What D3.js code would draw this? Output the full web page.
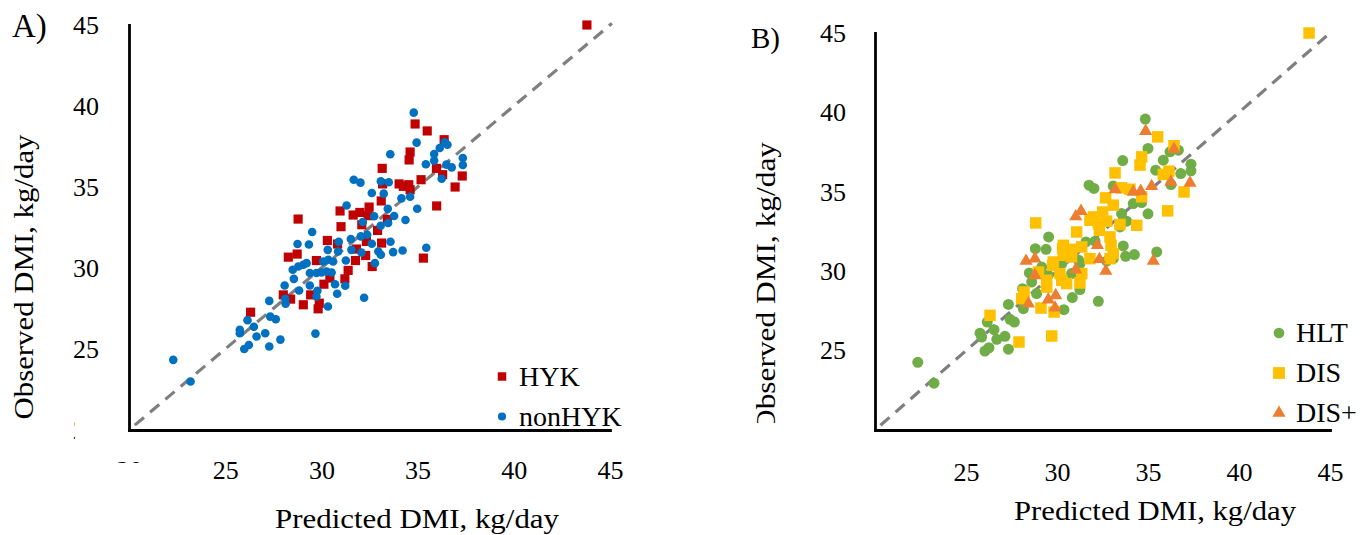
<!DOCTYPE html>
<html>
<head>
<meta charset="utf-8">
<script src="https://cdn.jsdelivr.net/npm/d3@7"></script>
<style>
  body { margin: 0; background: #fff; }
  text { font-family: "Palatino Linotype", "Book Antiqua", Palatino, "Liberation Serif", serif; fill: #000; }
</style>
</head>
<body>
<div id="chart"></div>
<script>
// tick labels
var ticksA = [20, 25, 30, 35, 40, 45];
var ticksB = [25, 30, 35, 40, 45];

// panel A: [predicted, observed] DMI, kg/day
var hyk = [
  [34.87,38.89],[35.50,38.46],[36.38,37.92],[34.61,37.16],[34.56,36.67],[33.16,36.15],
  [35.98,36.15],[36.30,35.76],[37.32,35.68],[36.95,35.00],[35.18,35.45],[34.04,35.19],
  [34.26,35.04],[34.54,35.14],[34.61,34.83],[33.18,35.19],[33.11,34.14],[35.99,33.83],
  [30.97,33.52],[31.65,33.27],[32.00,33.43],[32.48,33.76],[32.43,33.23],[28.79,33.02],
  [31.02,32.55],[33.43,33.00],[32.10,32.67],[32.92,32.32],[30.31,31.70],[30.84,31.48],
  [33.13,31.54],[32.34,31.64],[31.82,31.17],[28.28,30.67],[28.74,30.86],[29.74,30.46],
  [31.77,30.46],[32.30,30.77],[32.64,30.09],[35.30,30.61],[31.39,29.85],[31.22,29.33],
  [30.13,29.00],[28.02,28.34],[28.40,28.08],[29.06,27.73],[29.89,27.83],[29.83,27.48],
  [29.44,28.34],[26.32,27.27],[30.44,29.38],[43.80,45.00]
];
var nonhyk = [
  [34.80,39.59],[34.95,37.74],[33.58,37.02],[36.15,37.41],[36.41,37.76],[36.55,37.61],
  [35.86,37.04],[35.86,36.63],[35.43,36.40],[36.50,36.38],[36.77,36.21],[37.35,36.79],
  [37.35,36.36],[36.25,35.51],[31.68,35.45],[32.03,35.27],[33.09,35.35],[33.50,35.29],
  [32.62,34.63],[33.24,34.59],[34.16,34.30],[34.61,34.40],[34.98,33.66],[31.31,33.86],
  [33.45,33.66],[33.78,33.21],[34.37,32.96],[32.74,33.19],[32.15,32.84],[33.08,32.61],
  [33.47,32.78],[29.52,32.22],[28.76,31.48],[29.35,31.45],[32.05,31.95],[32.38,32.05],
  [33.59,31.62],[32.62,31.50],[30.90,31.62],[31.53,31.79],
  [22.30,24.33],[23.20,22.99],[26.16,26.78],[25.76,26.18],[25.76,25.97],[26.49,26.37],
  [26.63,25.77],[27.08,25.97],[26.23,25.25],[25.99,25.00],[27.29,25.15],[27.87,25.58],
  [27.29,27.97],[27.34,27.00],[27.63,26.84],[28.12,28.10],[28.14,27.79],[28.09,28.92],
  [28.57,29.33],[28.84,28.61],[29.40,28.92],[29.69,25.95],[29.79,28.59],[29.74,28.24],
  [30.34,27.62],[30.71,29.00],[30.82,28.41],[31.24,28.90],[32.22,28.16],[32.78,30.30],
  [28.51,29.89],[28.80,30.09],[29.06,30.20],[29.23,30.30],[29.40,29.69],[29.74,29.69],
  [30.01,29.72],[30.27,29.78],[30.53,29.72],[30.09,30.40],[30.36,30.51],[30.61,30.40],
  [30.87,31.02],[30.33,31.12],[31.27,30.46],[31.56,31.12],[32.08,30.96],[32.96,31.02],
  [33.09,30.82],[33.73,30.98],[34.22,31.08],[35.45,31.25]
];

// panel B: [predicted, observed] DMI, kg/day
var hlt = [
  [34.85,39.58],[35.00,37.73],[33.61,36.97],[35.84,36.99],[36.21,37.52],[36.67,37.62],
  [37.36,36.74],[37.36,36.32],[35.42,36.36],[36.80,36.15],[36.26,35.46],[31.76,35.42],
  [32.03,35.21],[33.09,35.37],[34.19,34.26],[34.65,34.32],[35.00,33.61],[33.64,33.19],
  [33.55,33.63],[33.83,33.15],[33.46,32.79],[29.54,32.16],[28.81,31.42],[29.40,31.38],
  [31.59,31.84],[32.09,31.89],[33.64,31.59],[33.77,30.94],[34.25,31.05],[35.48,31.21],
  [32.73,30.64],[31.19,30.69],
  [22.35,24.26],[23.24,22.95],[25.77,26.10],[25.86,25.85],[26.54,26.32],[26.69,25.71],
  [27.14,25.90],[26.04,24.97],[26.26,25.18],[27.33,25.09],[26.17,26.80],[27.33,27.91],
  [27.42,26.97],[27.66,26.80],[28.15,27.64],[28.11,28.90],[28.88,28.59],[28.61,29.32],
  [28.48,29.89],[30.38,27.58],[30.84,28.34],[31.26,28.84],[32.27,28.10],[29.16,30.26],
  [29.52,29.74],[30.26,30.48],[30.80,29.85],[31.26,30.48],[33.09,30.79]
];
var dis = [
  [35.53,38.46],[36.43,37.90],[34.65,37.20],[34.56,36.68],[33.19,36.19],[35.84,36.09],
  [36.15,36.30],[36.98,34.99],[33.55,35.25],[34.01,35.16],[34.65,34.68],[32.67,34.62],
  [33.09,34.16],[36.08,33.80],[28.83,33.04],[31.08,32.47],[32.00,33.42],[32.51,33.73],
  [32.27,33.00],[32.73,33.15],[31.81,33.21],[32.33,32.58],[33.46,32.94],[34.38,32.89],
  [32.91,32.16],[32.97,31.63],[33.09,31.11],[30.35,31.63],[30.80,31.38],[31.36,31.53],
  [30.35,31.00],[30.80,30.90],[29.80,30.58],[31.81,30.79],[32.91,30.79],
  [26.32,27.22],[27.91,25.54],[29.71,25.92],[28.06,28.27],[28.19,28.69],[29.12,27.68],
  [29.84,27.43],[29.43,29.00],[29.43,29.43],[29.76,30.37],[30.16,29.85],[30.26,29.43],
  [30.53,29.22],[28.98,29.95],[31.36,29.85],[31.26,29.26],[30.31,31.42],[43.85,45.00]
];
var disPlus = [
  [34.87,38.82],[36.43,37.69],[33.19,35.15],[34.19,34.99],[34.60,35.04],[35.20,35.35],
  [36.26,35.62],[37.31,35.56],[31.32,33.78],[31.03,33.44],[32.22,31.63],[28.30,30.64],
  [28.79,30.79],[32.33,30.75],[35.29,30.64],[28.79,29.74],[28.43,27.96],[29.52,28.21],
  [29.93,28.48],[29.89,27.70],[31.03,30.10],[32.68,30.01]
];

var svg = d3.select("#chart").append("svg")
    .attr("width", 1370)
    .attr("height", 535);

function drawPanel(p) {
  var x = d3.scaleLinear().domain([20, 45]).range(p.xr);
  var y = d3.scaleLinear().domain([20, 45]).range(p.yr);
  var g = svg.append("g");

  // 1:1 line
  g.append("line")
    .attr("x1", x(20.3)).attr("y1", y(20.3))
    .attr("x2", x(45.1)).attr("y2", y(45.1))
    .attr("stroke", "#7f7f7f")
    .attr("stroke-width", 3.2)
    .attr("stroke-dasharray", "12,8");

  // points
  p.series.forEach(function(s) {
    g.selectAll(null)
      .data(s.pts)
      .enter()
      .append("path")
      .attr("d", d3.symbol().type(s.type).size(s.size))
      .attr("transform", function(d) { return "translate(" + x(d[0]) + "," + y(d[1]) + ")"; })
      .attr("fill", s.color);
  });

  // axes
  var xAxis = g.append("g")
    .attr("transform", "translate(0," + y(20) + ")")
    .call(d3.axisBottom(x).tickValues(p.ticks).tickSize(0).tickSizeOuter(0).tickPadding(p.xpad));
  var yAxis = g.append("g")
    .attr("transform", "translate(" + x(20) + ",0)")
    .call(d3.axisLeft(y).tickValues(p.ticks).tickSize(0).tickSizeOuter(0).tickPadding(p.ypad));
  [xAxis, yAxis].forEach(function(a) {
    a.attr("font-family", null).attr("font-size", null);
    a.select(".domain").attr("stroke", "#000").attr("stroke-width", 2.8).attr("stroke-linecap", "square");
    a.selectAll("text").style("font-size", "26px");
  });

  // white cover hiding most of the "20" labels
  if (p.covers) {
    p.covers.forEach(function(c) {
      g.append("rect").attr("x", c[0]).attr("y", c[1]).attr("width", c[2]).attr("height", c[3]).attr("fill", "#fff");
    });
  }

  // axis titles
  g.append("text")
    .attr("x", p.xt[0]).attr("y", p.xt[1])
    .attr("text-anchor", "middle")
    .attr("textLength", p.xt[2]).attr("lengthAdjust", "spacingAndGlyphs")
    .style("font-size", "27px")
    .text("Predicted DMI, kg/day");
  g.append("text")
    .attr("transform", "translate(" + p.yt[0] + "," + p.yt[1] + ") rotate(-90)")
    .attr("text-anchor", "middle")
    .attr("textLength", p.yt[2]).attr("lengthAdjust", "spacingAndGlyphs")
    .style("font-size", "27px")
    .text("Observed DMI, kg/day");
  if (p.ytCover) {
    g.append("rect").attr("x", p.ytCover[0]).attr("y", p.ytCover[1])
      .attr("width", p.ytCover[2]).attr("height", p.ytCover[3]).attr("fill", "#fff");
  }

  // panel letter
  g.append("text")
    .attr("x", p.letter[0]).attr("y", p.letter[1])
    .style("font-size", p.letter[2] + "px")
    .text(p.letter[3]);

  // legend
  p.series.forEach(function(s, i) {
    var ly = p.legend[1] + i * p.legend[3];
    g.append("path")
      .attr("d", d3.symbol().type(s.type).size(s.lsize))
      .attr("transform", "translate(" + p.legend[0] + "," + ly + ")")
      .attr("fill", s.color);
    g.append("text")
      .attr("x", p.legend[2]).attr("y", ly + 9)
      .style("font-size", "28px")
      .text(s.name);
  });
}

drawPanel({
  xr: [129, 610], yr: [430, 25],
  ticks: ticksA, xpad: 31, ypad: 30,
  covers: [[75, 412, 40, 36], [105, 463, 50, 24]],
  xt: [417, 528, 284], yt: [33, 277, 285],
  letter: [12, 37, 33, "A)"],
  legend: [502, 376.5, 519, 40],
  series: [
    {name: "HYK", pts: hyk, type: d3.symbolSquare, size: 84, lsize: 72, color: "#c00000"},
    {name: "nonHYK", pts: nonhyk, type: d3.symbolCircle, size: 58, lsize: 52, color: "#0070c0"}
  ]
});

drawPanel({
  xr: [875, 1330], yr: [430, 33],
  ticks: ticksB, xpad: 33, ypad: 29,
  xt: [1155, 520, 282], yt: [775, 287, 290],
  ytCover: [745, 423, 40, 20],
  letter: [751, 48, 29, "B)"],
  legend: [1279, 333, 1296, 40],
  series: [
    {name: "HLT", pts: hlt, type: d3.symbolCircle, size: 95, lsize: 90, color: "#70ad47"},
    {name: "DIS", pts: dis, type: d3.symbolSquare, size: 132, lsize: 140, color: "#ffc000"},
    {name: "DIS+", pts: disPlus, type: d3.symbolTriangle, size: 75, lsize: 75, color: "#ed7d31"}
  ]
});
</script>
</body>
</html>
